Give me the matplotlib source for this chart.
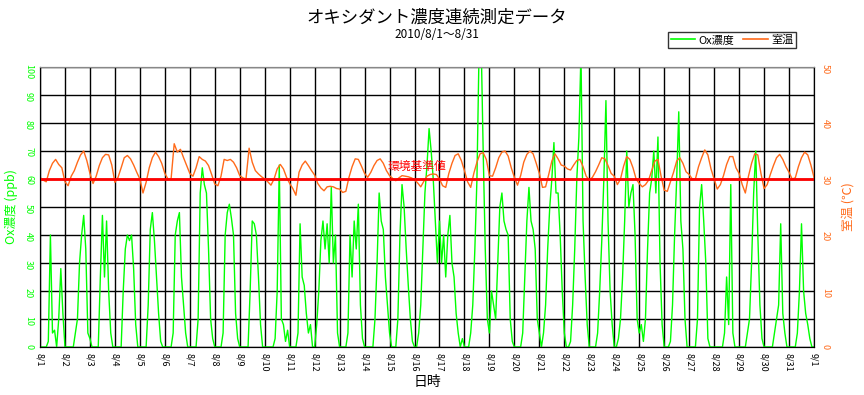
import numpy as np
import matplotlib.pyplot as plt
from matplotlib.lines import Line2D

plt.rcParams['font.family'] = ['Noto Sans CJK JP', 'DejaVu Sans']

day_labels = [f'8/{d}' for d in range(1, 32)] + ['9/1']

# Ox concentration (ppb), read every 2 hours from 0:00, one row per day (8/1 .. 8/31)
ox_ppb = [
    [0, 0, 0, 0, 2, 40, 5, 6, 0, 10, 28, 12],
    [0, 0, 0, 0, 0, 5, 10, 30, 40, 47, 35, 5],
    [3, 0, 0, 0, 0, 25, 47, 25, 45, 20, 5, 0],
    [0, 0, 0, 0, 20, 35, 40, 38, 40, 28, 8, 0],
    [0, 0, 0, 0, 15, 42, 48, 38, 25, 12, 2, 0],
    [0, 0, 0, 0, 5, 40, 45, 48, 25, 15, 5, 0],
    [0, 0, 0, 0, 10, 55, 64, 58, 55, 35, 10, 3],
    [0, 0, 0, 0, 5, 40, 48, 51, 46, 40, 12, 3],
    [0, 0, 0, 0, 0, 20, 45, 44, 40, 25, 8, 0],
    [0, 0, 0, 0, 0, 3, 20, 65, 10, 8, 2, 6],
    [0, 0, 0, 0, 5, 44, 25, 22, 12, 5, 8, 0],
    [0, 8, 20, 38, 45, 35, 44, 30, 57, 30, 40, 5],
    [0, 0, 0, 0, 5, 40, 25, 45, 35, 51, 15, 3],
    [0, 0, 0, 0, 0, 10, 30, 55, 45, 42, 25, 15],
    [5, 0, 0, 0, 10, 40, 58, 50, 35, 22, 10, 2],
    [0, 0, 5, 15, 35, 55, 65, 78, 70, 60, 45, 30],
    [45, 30, 40, 25, 40, 47, 30, 25, 12, 5, 0, 3],
    [0, 0, 0, 5, 15, 35, 60, 105, 110, 70, 35, 10],
    [5, 20, 15, 10, 30, 50, 55, 45, 42, 40, 10, 2],
    [0, 0, 0, 0, 5, 25, 45, 57, 45, 42, 35, 10],
    [5, 0, 5, 15, 35, 50, 60, 73, 55, 55, 40, 20],
    [5, 0, 0, 2, 15, 35, 60, 75, 105, 45, 25, 8],
    [0, 0, 0, 0, 5, 20, 38, 60, 88, 45, 20, 8],
    [0, 0, 3, 10, 25, 45, 70, 50, 55, 58, 40, 10],
    [5, 8, 2, 10, 35, 55, 60, 70, 55, 75, 30, 8],
    [0, 0, 0, 2, 15, 40, 60, 84, 45, 35, 10, 0],
    [0, 0, 0, 0, 10, 50, 58, 45, 30, 3, 0, 0],
    [0, 0, 0, 0, 0, 5, 25, 8, 58, 5, 0, 0],
    [0, 0, 0, 0, 5, 10, 30, 55, 70, 40, 15, 3],
    [0, 0, 0, 0, 0, 5, 10, 15, 44, 12, 5, 0],
    [0, 0, 0, 0, 5, 20, 44, 20, 12, 8, 3, 0],
]
ox_last = 0  # 9/1 0:00

# room temperature (deg C), read every 3 hours from 0:00, one row per day
temp_c = [
    [30.3, 29.8, 29.5, 31.5, 32.8, 33.5, 32.6, 32.0],
    [29.5, 28.8, 30.5, 31.5, 33.0, 34.3, 35.0, 33.3],
    [31.0, 29.2, 30.5, 32.4, 33.8, 34.4, 34.3, 32.5],
    [29.4, 30.3, 32.0, 33.8, 34.2, 33.6, 32.5, 31.2],
    [30.0, 27.5, 29.4, 32.0, 33.8, 34.8, 34.0, 32.8],
    [31.0, 30.0, 30.0, 36.3, 34.8, 35.3, 33.8, 32.4],
    [31.0, 30.5, 32.0, 34.0, 33.5, 33.2, 32.4, 30.8],
    [29.1, 28.8, 30.5, 33.5, 33.3, 33.5, 33.0, 32.0],
    [30.6, 30.2, 30.0, 35.5, 33.0, 31.5, 30.9, 30.4],
    [30.0, 29.5, 28.9, 30.0, 31.8, 32.6, 31.8, 30.3],
    [29.2, 28.3, 27.1, 31.2, 32.5, 33.2, 32.4, 31.5],
    [30.7, 29.2, 28.4, 27.9, 28.6, 28.7, 28.6, 28.3],
    [28.2, 27.6, 27.8, 30.3, 32.2, 33.6, 33.5, 32.3],
    [31.0, 30.3, 31.2, 32.4, 33.3, 33.6, 32.8, 31.5],
    [30.6, 30.1, 29.7, 30.2, 30.6, 30.5, 30.4, 30.2],
    [29.9, 29.3, 28.6, 29.6, 30.5, 30.8, 30.9, 30.8],
    [30.0, 28.8, 28.5, 31.0, 32.8, 34.2, 34.5, 33.3],
    [31.5, 29.5, 28.5, 31.0, 33.0, 34.5, 34.7, 33.5],
    [30.6, 30.5, 32.0, 33.8, 34.8, 35.0, 34.1, 32.0],
    [30.3, 28.9, 30.6, 33.0, 34.4, 35.0, 34.5, 32.8],
    [31.0, 28.5, 28.6, 30.8, 33.2, 34.5, 33.6, 32.5],
    [32.3, 31.8, 31.6, 32.5, 33.3, 33.5, 32.2, 30.5],
    [29.8, 30.3, 31.3, 32.5, 33.8, 33.6, 32.4, 31.0],
    [30.5, 29.0, 30.0, 32.3, 34.0, 33.5, 32.0, 30.0],
    [29.2, 28.6, 29.0, 29.8, 31.5, 33.2, 33.5, 30.5],
    [28.0, 27.8, 29.5, 31.2, 33.2, 33.8, 32.8, 31.3],
    [30.8, 30.0, 30.0, 32.2, 33.8, 35.2, 34.3, 31.8],
    [30.0, 28.2, 29.0, 30.6, 32.6, 34.0, 34.0, 32.0],
    [31.0, 29.0, 27.5, 30.5, 32.8, 34.5, 34.3, 31.0],
    [28.3, 29.0, 30.8, 32.4, 33.8, 34.4, 33.5, 32.2],
    [31.2, 30.0, 30.2, 32.2, 33.8, 34.8, 34.3, 32.5],
]
temp_last = 30.3  # 9/1 0:00

ox_standard = 60  # ppb

GREEN = '#00ff00'
ORANGE = '#ff6a1a'

ox = np.append(np.ravel(ox_ppb), ox_last)
ox_x = np.arange(len(ox)) / 12
temp = np.append(np.ravel(temp_c), temp_last)
temp_x = np.arange(len(temp)) / 8

fig = plt.figure(figsize=(8.64, 3.95), dpi=100)
ax = fig.add_axes([40 / 864, 48 / 395, 774 / 864, 280 / 395])
ax2 = ax.twinx()

ax.set_xlim(0, 31)
ax.set_ylim(0, 100)
ax2.set_ylim(0, 50)

ax.set_xticks(range(32))
ax.set_xticklabels(day_labels)
ax.set_yticks(range(0, 101, 10))
ax2.set_yticks(range(0, 51, 10))
ax.grid(True, color='black', linewidth=1)
ax.set_axisbelow(True)

ax.plot(ox_x, ox, color=GREEN, linewidth=1)
ax2.plot(temp_x, temp, color=ORANGE, linewidth=1)
ax2.axhline(ox_standard / 2, color='red', linewidth=2)
ax2.text(15.1, 31.0, '環境基準値', color='red', fontsize=8.5, ha='center', va='bottom')

ax.tick_params(axis='x', length=0, labelsize=6.5, labelrotation=-90, pad=4)
ax.tick_params(axis='y', length=0, labelsize=6.5, labelrotation=-90, pad=5, colors=GREEN)
ax2.tick_params(axis='y', length=0, labelsize=6.5, labelrotation=-90, pad=5, colors=ORANGE)
ax.spines['top'].set_color('#888888')
ax2.spines['top'].set_color('#888888')

ax.set_xlabel('日時', fontsize=10, labelpad=3)
ax.set_ylabel('Ox濃度 (ppb)', color=GREEN, fontsize=9, labelpad=4)
ax2.set_ylabel('室温 (℃)', color=ORANGE, fontsize=9, labelpad=8, rotation=90)

fig.text(0.506, 0.955, 'オキシダント濃度連続測定データ', ha='center', va='center', fontsize=12.5)
fig.text(0.506, 0.912, '2010/8/1～8/31', ha='center', va='center', fontsize=8.5)

handles = [Line2D([], [], color=GREEN, linewidth=1.2),
           Line2D([], [], color=ORANGE, linewidth=1.2)]
leg = fig.legend(handles, ['Ox濃度', '室温'], ncol=2, loc='upper right',
                 bbox_to_anchor=(796 / 864, 1 - 32 / 395), fontsize=8,
                 frameon=True, fancybox=False, handlelength=2.2, handletextpad=0.3,
                 columnspacing=0.8, borderpad=0.25, borderaxespad=0)
leg.get_frame().set_edgecolor('black')
leg.get_frame().set_linewidth(1)

fig.savefig('out.png', dpi=100)
